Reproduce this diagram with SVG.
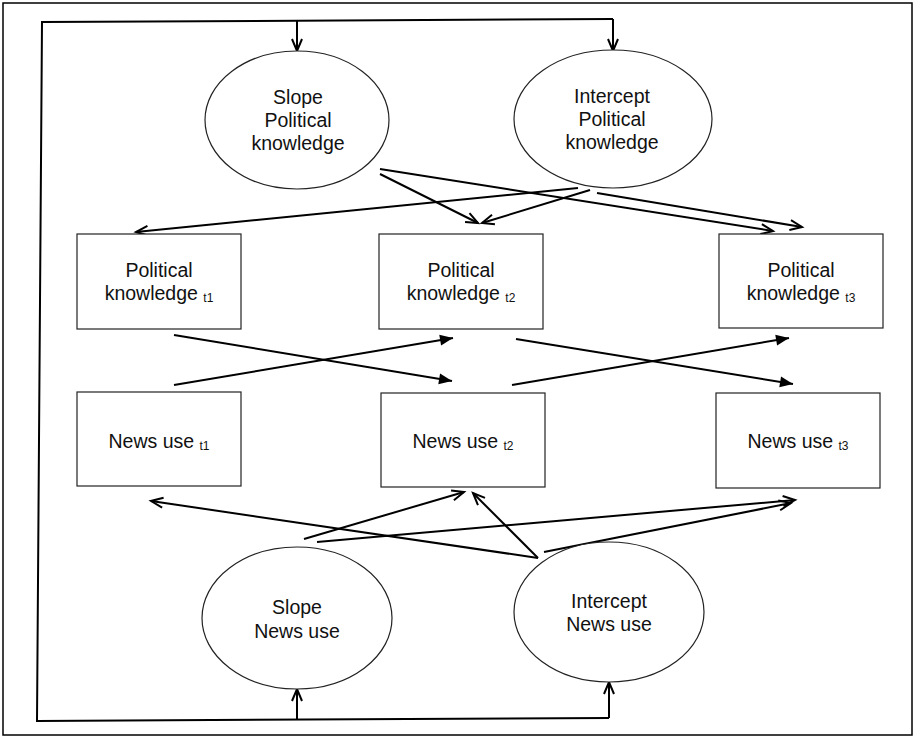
<svg xmlns="http://www.w3.org/2000/svg" width="915" height="738" viewBox="0 0 915 738">
<style>
.node{fill:#fff;stroke:#222;stroke-width:1.2}
.lbl{font-family:"Liberation Sans",Arial,sans-serif;font-size:19.5px;fill:#111;text-anchor:middle}
.sub{font-size:12px}
.c{fill:none;stroke:#000;stroke-width:2}
.open{marker-end:url(#vOpen)}
.fill{marker-end:url(#vFill)}
</style>
<defs>
<marker id="vOpen" markerUnits="userSpaceOnUse" viewBox="-14 -7 16 14" refX="0" refY="0" markerWidth="16" markerHeight="14" orient="auto" overflow="visible">
<path d="M-12,-5 L0,0 L-12,5" fill="none" stroke="#000" stroke-width="2"/>
</marker>
<marker id="vFill" markerUnits="userSpaceOnUse" viewBox="-14 -7 16 14" refX="0" refY="0" markerWidth="16" markerHeight="14" orient="auto" overflow="visible">
<path d="M-13,-5.5 L0,0 L-13,5.5 Z" fill="#000"/>
</marker>
</defs>
<rect x="3" y="3" width="909" height="732" fill="#fff" stroke="#000" stroke-width="1.5"/>
<g id="connectors">
<path class="c" d="M613,19 L42,22 L37,721 L609,718" stroke-width="1.8"/>
<path class="c open" d="M297,21 L297,51"/>
<path class="c open" d="M613,19 L613,51"/>
<path class="c open" d="M297,720 L297,689"/>
<path class="c open" d="M609,718 L609,682"/>
<path class="c open" d="M380,169 L773,231"/>
<path class="c open" d="M380,174 L478,223"/>
<path class="c open" d="M578,188 L136,232"/>
<path class="c open" d="M590,190 L482,223"/>
<path class="c open" d="M597,193 L802,227"/>
<path class="c fill" d="M174,335 L452,381"/>
<path class="c fill" d="M174,385 L453,338"/>
<path class="c fill" d="M516,339 L793,384"/>
<path class="c fill" d="M512,385 L789,338"/>
<path class="c open" d="M538,558 L151,501"/>
<path class="c open" d="M304,539 L464,492"/>
<path class="c open" d="M317,542 L795,500"/>
<path class="c open" d="M538,558 L473,493"/>
<path class="c open" d="M544,552 L791,503"/>
</g>
<g id="slopePK">
<ellipse class="node" cx="297" cy="120" rx="92" ry="69"/>
<text class="lbl" x="298" y="104">Slope</text>
<text class="lbl" x="298" y="127">Political</text>
<text class="lbl" x="298" y="150">knowledge</text>
</g>
<g id="interceptPK">
<ellipse class="node" cx="613" cy="119" rx="99" ry="69"/>
<text class="lbl" x="612" y="103">Intercept</text>
<text class="lbl" x="612" y="126">Political</text>
<text class="lbl" x="612" y="149">knowledge</text>
</g>
<g id="pk1">
<rect class="node" x="77" y="234" width="164" height="95"/>
<text class="lbl" x="159" y="277">Political</text>
<text class="lbl" x="159" y="300">knowledge <tspan class="sub" dy="2">t1</tspan></text>
</g>
<g id="pk2">
<rect class="node" x="379" y="234" width="164" height="95"/>
<text class="lbl" x="461" y="277">Political</text>
<text class="lbl" x="461" y="300">knowledge <tspan class="sub" dy="2">t2</tspan></text>
</g>
<g id="pk3">
<rect class="node" x="719" y="234" width="164" height="94"/>
<text class="lbl" x="801" y="277">Political</text>
<text class="lbl" x="801" y="300">knowledge <tspan class="sub" dy="2">t3</tspan></text>
</g>
<g id="news1">
<rect class="node" x="77" y="392" width="164" height="94"/>
<text class="lbl" x="159" y="448">News use <tspan class="sub" dy="2">t1</tspan></text>
</g>
<g id="news2">
<rect class="node" x="381" y="393" width="164" height="94"/>
<text class="lbl" x="463" y="448">News use <tspan class="sub" dy="2">t2</tspan></text>
</g>
<g id="news3">
<rect class="node" x="716" y="393" width="164" height="95"/>
<text class="lbl" x="798" y="448">News use <tspan class="sub" dy="2">t3</tspan></text>
</g>
<g id="slopeNews">
<ellipse class="node" cx="297" cy="618" rx="95" ry="71"/>
<text class="lbl" x="297" y="614">Slope</text>
<text class="lbl" x="297" y="638">News use</text>
</g>
<g id="interceptNews">
<ellipse class="node" cx="609" cy="612" rx="95" ry="70"/>
<text class="lbl" x="609" y="608">Intercept</text>
<text class="lbl" x="609" y="631">News use</text>
</g>
</svg>
